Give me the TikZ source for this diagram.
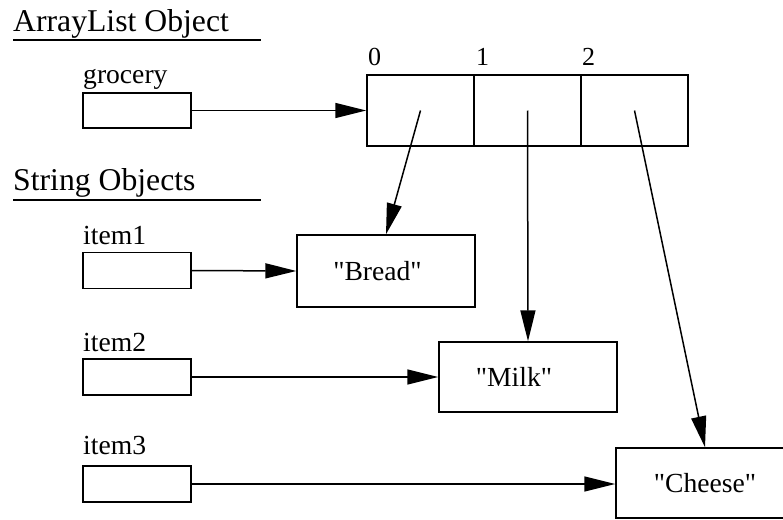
\documentclass[tikz,border=0pt]{standalone}
\usepackage{fontspec}
\setmainfont{Liberation Serif}[Ligatures=TeXOff]
\usetikzlibrary{arrows.meta}
\tikzset{
  head/.style={font=\fontsize{31.7}{36}\selectfont, inner sep=0pt, anchor=base west},
  lbl/.style={font=\fontsize{27.6}{32}\selectfont, inner sep=0pt, anchor=base west},
  idx/.style={font=\fontsize{26}{30}\selectfont, inner sep=0pt, anchor=base west},
  ref/.style={draw, line width=1.4pt, minimum width=108pt, minimum height=35pt, inner sep=0pt},
  cell/.style={draw, line width=1.4pt, minimum width=107pt, minimum height=71pt, inner sep=0pt},
  strbox/.style={draw, line width=1.4pt, minimum width=178pt, minimum height=70pt, inner sep=0pt},
  strtxt/.style={font=\fontsize{27.6}{32}\selectfont, inner sep=0pt},
  arr/.style={line width=1.5pt, -{Triangle[length=31pt,width=15pt]}},
  uline/.style={line width=1.4pt}
}
\begin{document}
\begin{tikzpicture}[x=1pt,y=-1pt]
\useasboundingbox (0,0) rectangle (783,519);
\clip (0,0) rectangle (783,519);
% headers
\node[head] (h1) at (13,31) {ArrayList Object};
\node[head] (h2) at (13,190) {String Objects};
\coordinate (u1a) at (13,40); \coordinate (u1b) at (261,40);
\coordinate (u2a) at (13,200); \coordinate (u2b) at (261,200);
\draw[uline] (u1a) -- (u1b);
\draw[uline] (u2a) -- (u2b);
% reference variables
\node[lbl] (lg) at (83,83) {grocery};
\node[ref] (grocery) at (137,110.5) {};
\node[lbl] (l1) at (83,244) {item1};
\node[ref, minimum height=36pt] (item1) at (137,270.5) {};
\node[lbl] (l2) at (83,351) {item2};
\node[ref, minimum height=36pt] (item2) at (137,377) {};
\node[lbl] (l3) at (83,454) {item3};
\node[ref, minimum height=36pt] (item3) at (137,484) {};
% array
\node[cell] (c0) at (420.5,110.5) {};
\node[cell] (c1) at (527.5,110.5) {};
\node[cell] (c2) at (634.5,110.5) {};
\node[idx] (i0) at (368,65) {0};
\node[idx] (i1) at (476,65) {1};
\node[idx] (i2) at (582,65) {2};
% string objects
\node[strbox, minimum height=72pt] (bread) at (386,271) {};
\node[strtxt] (tb) at (377.5,271) {"Bread"};
\node[strbox] (milk) at (528,377) {};
\node[strtxt] (tm) at (514,377) {"Milk"};
\node[strbox] (cheese) at (705,483) {};
\node[strtxt] (tc) at (705,483) {"Cheese"};
% arrows
\draw[arr] (grocery.east) -- (c0.west);
\draw[arr] (c0.center) -- (bread.north);
\draw[arr] (c1.center) -- (milk.north);
\draw[arr] (c2.center) -- (cheese.north);
\draw[arr] (item1.east) -- (bread.west);
\draw[arr] (item2.east) -- (milk.west);
\draw[arr] (item3.east) -- (item3.east -| cheese.west);
\end{tikzpicture}
\end{document}
